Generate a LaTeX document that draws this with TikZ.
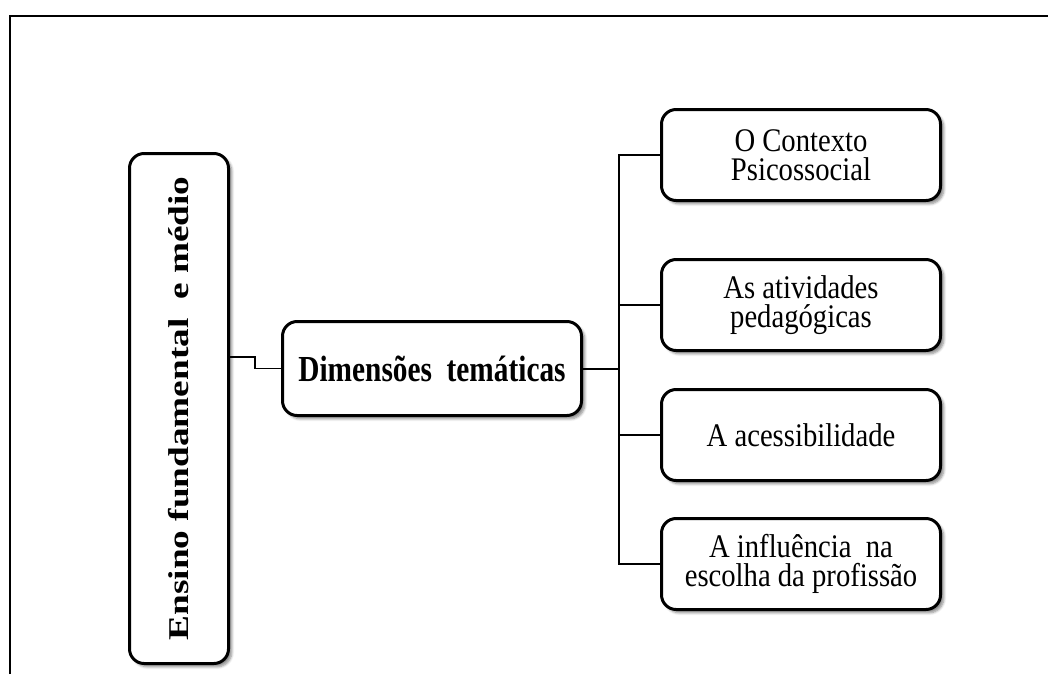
\documentclass[tikz,border=0pt]{standalone}
\usepackage{fontspec}
\setmainfont{Liberation Serif}
\usetikzlibrary{shadows.blur}
% text is set somewhat tall: stretched upward
\newcommand{\talltext}[2][1.25]{\scalebox{1}[#1]{#2}}
\newcommand{\twolines}[1]{\talltext[1.15]{\parbox{200pt}{\centering
  \fontsize{21.5}{19}\selectfont\lineskiplimit=-\maxdimen #1}}}
\begin{document}
\begin{tikzpicture}[x=0.75pt,y=-0.75pt,
  card/.style={draw=black, line width=2.25pt, rounded corners=11pt, fill=white,
    align=center, inner sep=0pt,
    blur shadow={shadow xshift=2.5pt, shadow yshift=-2.5pt, shadow blur steps=6, shadow opacity=45}},
  topic/.style={card, minimum width=209.25pt, minimum height=68.25pt},
  link/.style={draw=black, line width=0.9pt},
  frame/.style={draw=black, line width=1.6pt}]
\useasboundingbox (0,0) rectangle (1048,674);
% page frame
\draw[frame] (10,674) -- (10,16) -- (1048,16);

% main boxes
\node[card, minimum width=74.25pt, minimum height=382.5pt] (L) at (179,408.5)
  {\talltext[1.3]{\rotatebox{90}{\fontsize{21.5}{24}\selectfont\bfseries Ensino fundamental\ \ e médio}}};
\node[card, minimum width=224.25pt, minimum height=70.5pt] (M) at (432,368.5)
  {\talltext{\fontsize{22}{24}\selectfont\bfseries Dimensões\ \ temáticas}};

% topic boxes
\node[topic] (R1) at (801,155) {\twolines{O Contexto\\Psicossocial}};
\node[topic] (R2) at (801,305) {\twolines{As atividades\\pedagógicas}};
\node[topic] (R3) at (801,435) {\twolines{A acessibilidade}};
\node[topic] (R4) at (801,564) {\twolines{A influência\ \ na\\escolha da profissão}};

% connectors
\coordinate (j1) at (255,357);
\coordinate (trunk) at (619,368.5);
\draw[link, line width=0.8pt] (L.east |- j1) -- (j1) |- (M.west);
\draw[link, line width=1.5pt] (M.east) -- (M.east -| trunk);
\draw[link] (R1.west) -- (R1.west -| trunk) -- (R4.west -| trunk) -- (R4.west);
\draw[link] (R2.west -| trunk) -- (R2.west);
\draw[link] (R3.west -| trunk) -- (R3.west);
\end{tikzpicture}
\end{document}
